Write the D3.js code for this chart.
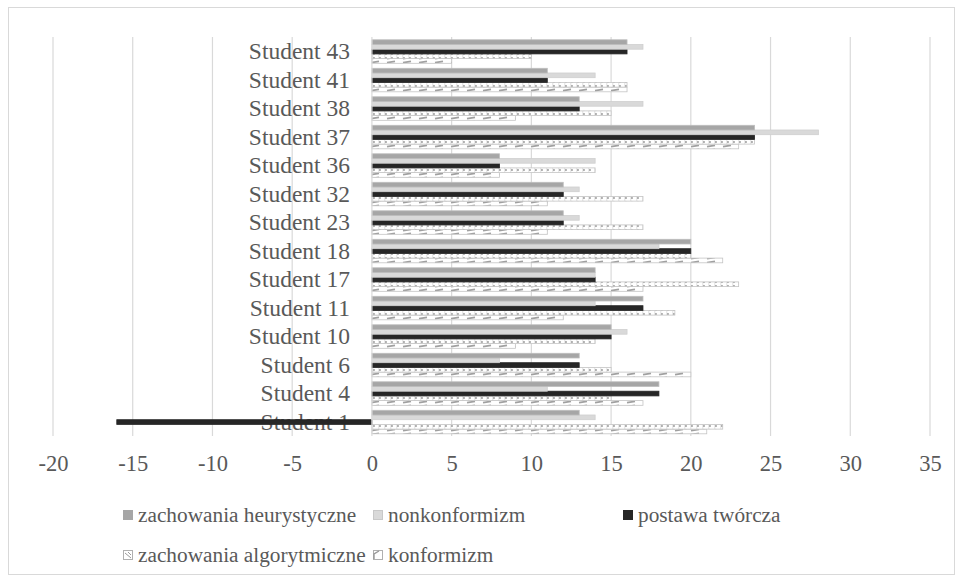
<!DOCTYPE html>
<html>
<head>
<meta charset="utf-8">
<script src="https://cdn.jsdelivr.net/npm/d3@7"></script>
<style>
  html, body { margin: 0; padding: 0; background: #ffffff; }
  svg { display: block; }
</style>
</head>
<body>
<svg id="chart" width="962" height="581"></svg>
<script>
// Students, listed bottom to top as they appear on the category axis
const students = ["Student 1", "Student 4", "Student 6", "Student 10", "Student 11", "Student 17",
  "Student 18", "Student 23", "Student 32", "Student 36", "Student 37", "Student 38", "Student 41", "Student 43"];

const seriesNames = ["zachowania heurystyczne", "nonkonformizm", "postawa twórcza",
  "zachowania algorytmiczne", "konformizm"];

const heurystyczne  = [13, 18, 13, 15, 17, 14, 20, 12, 12, 8, 24, 13, 11, 16];
const nonkonformizm = [14, 11, 8, 16, 14, 14, 18, 13, 13, 14, 28, 17, 14, 17];
const tworcza       = [-16, 18, 13, 15, 17, 14, 20, 12, 12, 8, 24, 13, 11, 16];
const algorytmiczne = [22, 15, 15, 14, 19, 23, 20, 17, 17, 14, 24, 15, 16, 10];
const konformizm    = [21, 17, 20, 9, 12, 17, 22, 11, 11, 8, 23, 9, 16, 5];

const xTicks = [-20, -15, -10, -5, 0, 5, 10, 15, 20, 25, 30, 35];

const seriesValues = [heurystyczne, nonkonformizm, tworcza, algorytmiczne, konformizm];

const svg = d3.select("#chart");
const defs = svg.append("defs");

// Hatch fills for the two patterned series
const pAlg = defs.append("pattern").attr("id", "pat-alg")
  .attr("patternUnits", "userSpaceOnUse").attr("width", 6).attr("height", 4);
pAlg.append("rect").attr("width", 6).attr("height", 4).attr("fill", "#ffffff");
pAlg.append("path").attr("d", "M0.5,1 L3,2 L0.5,3").attr("fill", "none")
  .attr("stroke", "#a8a8a8").attr("stroke-width", 1);

const pKonf = defs.append("pattern").attr("id", "pat-konf")
  .attr("patternUnits", "userSpaceOnUse").attr("width", 16).attr("height", 4);
pKonf.append("rect").attr("width", 16).attr("height", 4).attr("fill", "#ffffff");
pKonf.append("path").attr("d", "M3,2.6 L11,1.4").attr("fill", "none")
  .attr("stroke", "#a0a0a0").attr("stroke-width", 1.7);

const fills = ["#a6a6a6", "#d9d9d9", "#262626", "url(#pat-alg)", "url(#pat-konf)"];
const strokes = ["#bdbdbd", "#cfcfcf", "#262626", "#c4c4c4", "#c4c4c4"];

// Outer chart border
svg.append("rect").attr("x", 8.5).attr("y", 7.5).attr("width", 946).attr("height", 567)
  .attr("fill", "none").attr("stroke", "#d9d9d9").attr("stroke-width", 1);

const x = d3.scaleLinear().domain([-20, 35]).range([53, 930]);
const y = d3.scaleBand().domain(students.slice().reverse()).range([37, 436])
  .paddingInner(0.175).paddingOuter(0.0875);
const ys = d3.scaleBand().domain(seriesNames).range([0, y.bandwidth()]);

const plotTop = 37, plotBottom = 436;

// Vertical gridlines
svg.append("g").selectAll("line").data(xTicks.filter(t => t !== 0)).join("line")
  .attr("x1", d => x(d)).attr("x2", d => x(d))
  .attr("y1", plotTop).attr("y2", plotBottom)
  .attr("stroke", "#d9d9d9").attr("stroke-width", 1.2);

// Tick labels
const axis = d3.axisBottom(x).tickValues(xTicks).tickSize(0).tickPadding(0)
  .tickFormat(d => d < 0 ? "-" + Math.abs(d) : String(d));
const gx = svg.append("g").attr("transform", "translate(0,455)").call(axis);
gx.select(".domain").remove();
gx.selectAll("text")
  .attr("font-family", "'Liberation Serif', 'Times New Roman', serif")
  .attr("font-size", 22.5).attr("fill", "#595959").attr("dy", "0.7em");

// Category labels (drawn under the bars)
svg.append("g").selectAll("text").data(students).join("text")
  .attr("x", 350).attr("y", d => y(d) + y.bandwidth() / 2 + 8)
  .attr("text-anchor", "end")
  .attr("font-family", "'Liberation Serif', 'Times New Roman', serif")
  .attr("font-size", 23.5).attr("fill", "#595959")
  .text(d => d);

// Bars, drawn last series first so the upper bars sit on top
const barH = ys.bandwidth();
for (let s = seriesNames.length - 1; s >= 0; s--) {
  const vals = seriesValues[s];
  svg.append("g").selectAll("rect").data(students.map((st, i) => ({ st, v: vals[i] }))).join("rect")
    .attr("x", d => x(Math.min(0, d.v)))
    .attr("width", d => Math.abs(x(d.v) - x(0)))
    .attr("y", d => y(d.st) + ys(seriesNames[s]) + 0.3)
    .attr("height", barH)
    .attr("fill", fills[s])
    .attr("stroke", strokes[s]).attr("stroke-width", 0.8);
}

// Category axis line at zero
svg.append("line").attr("x1", x(0)).attr("x2", x(0)).attr("y1", plotTop).attr("y2", plotBottom)
  .attr("stroke", "#d9d9d9").attr("stroke-width", 1.2);

// Legend
const legendItems = [
  { name: seriesNames[0], fill: fills[0], stroke: "#a6a6a6", lx: 123, ly: 515 },
  { name: seriesNames[1], fill: fills[1], stroke: "#c8c8c8", lx: 373, ly: 515 },
  { name: seriesNames[2], fill: fills[2], stroke: "#262626", lx: 623, ly: 515 },
  { name: seriesNames[3], fill: "#ffffff", stroke: "#b0b0b0", lx: 123, ly: 555, mark: "alg" },
  { name: seriesNames[4], fill: "#ffffff", stroke: "#b0b0b0", lx: 373, ly: 555, mark: "konf" }
];
const lg = svg.append("g").selectAll("g").data(legendItems).join("g")
  .attr("transform", d => `translate(${d.lx},${d.ly})`);
lg.append("rect").attr("x", 0.5).attr("y", -4.5).attr("width", 9).attr("height", 9)
  .attr("fill", d => d.fill).attr("stroke", d => d.stroke).attr("stroke-width", 1);
lg.filter(d => d.mark === "alg").append("path")
  .attr("d", "M2,-2 L8,3 M5,-3 L8,0").attr("stroke", "#9a9a9a").attr("stroke-width", 1).attr("fill", "none");
lg.filter(d => d.mark === "konf").append("path")
  .attr("d", "M1,4 L1,-1 L6,-4").attr("stroke", "#9a9a9a").attr("stroke-width", 1.4).attr("fill", "none");
lg.append("text").attr("x", 15).attr("y", 7)
  .attr("font-family", "'Liberation Serif', 'Times New Roman', serif")
  .attr("font-size", 21.3).attr("fill", "#595959")
  .text(d => d.name);
</script>
</body>
</html>
